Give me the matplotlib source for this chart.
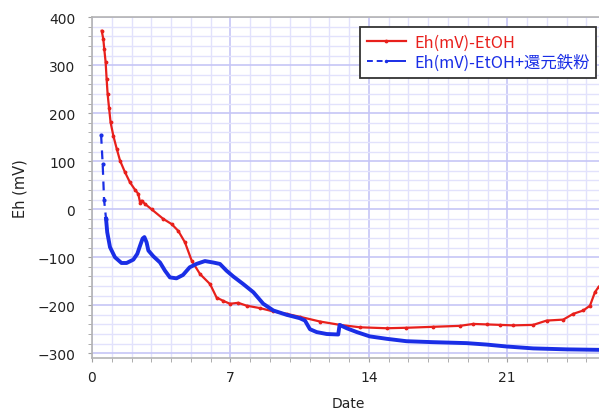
import numpy as np
import matplotlib.pyplot as plt
from matplotlib.ticker import MultipleLocator

plt.rcParams['font.family'] = ['Noto Sans CJK JP', 'DejaVu Sans']

# Eh(mV)-EtOH
red_day = [0.49, 0.57, 0.62, 0.69, 0.74, 0.79, 0.86, 0.94, 1.08, 1.25, 1.42, 1.67,
           1.92, 2.17, 2.34, 2.43, 2.51, 2.68, 3.01, 3.6, 4.03, 4.36, 4.7, 5.04,
           5.46, 5.97, 6.3, 6.64, 6.98, 7.39, 7.82, 8.49, 9.17, 9.84, 10.5, 11.53,
           12.54, 13.55, 14.9, 15.9, 17.25, 18.6, 19.28, 19.95, 20.63, 21.3, 22.31,
           22.99, 23.83, 24.33, 24.84, 25.18, 25.43, 25.63, 25.9]
red_eh = [372, 355, 334, 306, 271, 240, 212, 181, 153, 126, 101, 77,
          56, 41, 32, 14, 18, 11, 0, -20, -31, -45, -69, -107,
          -135, -156, -184, -191, -197, -195, -201, -206, -213, -218, -224, -234,
          -241, -246, -248, -247, -245, -243, -239, -240, -241, -242, -241,
          -232, -230, -218, -211, -201, -173, -161, -155]

# Eh(mV)-EtOH+還元鉄粉
blue_day = [0.46, 0.54, 0.61, 0.71, 0.77, 0.91, 1.16, 1.49, 1.75, 2.09, 2.29, 2.43,
            2.56, 2.65, 2.76, 2.85, 3.1, 3.44, 3.69, 3.94, 4.27, 4.6, 4.94, 5.28,
            5.71, 6.13, 6.47, 6.8, 7.14, 7.65, 8.16, 8.66, 9.17, 9.84, 10.5, 10.77,
            11.02, 11.36, 11.87, 12.45, 12.52, 12.88, 13.39, 14.05, 14.9, 15.9,
            17.25, 18.94, 19.95, 20.96, 22.31, 24.0, 25.63, 25.9]
blue_eh = [155, 94, 20, -20, -48, -79, -100, -112, -112, -105, -93, -76,
           -61, -58, -69, -86, -98, -111, -128, -142, -144, -137, -121, -114,
           -108, -111, -114, -128, -140, -156, -173, -197, -211, -220, -227, -232,
           -250, -256, -260, -261, -241, -248, -256, -265, -270, -275,
           -277, -279, -282, -286, -290, -292, -293, -293]

red = '#e8201c'
blue = '#1a2ee6'

fig = plt.figure(figsize=(5.99, 4.14), dpi=100)
ax = fig.add_axes([92 / 599, 55 / 414, 513 / 599, 340.7 / 414])

ax.plot(red_day, red_eh, color=red, lw=1.6, marker='.', ms=3.5,
        label='Eh(mV)-EtOH', zorder=3)
ax.plot(blue_day[3:], blue_eh[3:], color=blue, lw=2.8, zorder=3)
ax.plot(blue_day[:4], blue_eh[:4], color=blue, lw=1.6, ls=(0, (4, 3)),
        marker='.', ms=4, zorder=3)
ax.plot([], [], color=blue, lw=1.4, ls=(0, (3, 2, 3, 2, 9, 0)), marker='.', ms=3,
        markevery=[1], label='Eh(mV)-EtOH+還元鉄粉')

ax.set_xlim(0, 25.94)
ax.set_ylim(-310, 400)
ax.xaxis.set_major_locator(MultipleLocator(7))
ax.xaxis.set_minor_locator(MultipleLocator(1))
ax.yaxis.set_major_locator(MultipleLocator(100))
ax.yaxis.set_minor_locator(MultipleLocator(20))

ax.grid(which='minor', color='#e2e2fc', lw=1.0)
ax.grid(which='major', color='#c6c6f6', lw=1.2)
ax.set_axisbelow(True)

for s in ['left', 'bottom', 'top']:
    ax.spines[s].set_color('#b4b4b4')
    ax.spines[s].set_linewidth(1.2)
ax.spines['right'].set_visible(False)

ax.tick_params(which='both', colors='#a0a0a0', labelcolor='#222222', labelsize=10,
               length=3)
ax.tick_params(axis='y', pad=9)
ax.tick_params(axis='x', pad=6)
for lab in ax.get_xticklabels() + ax.get_yticklabels():
    lab.set_fontfamily('DejaVu Sans')

ax.set_ylabel('Eh (mV)', fontsize=10.5, family='DejaVu Sans', color='#222222',
              labelpad=7)
ax.set_xlabel('Date', fontsize=10, family='DejaVu Sans', color='#222222',
              labelpad=8)

leg = ax.legend(loc='upper left', bbox_to_anchor=((360 - 92) / 513, 1 - (28 - 18.3) / 340.7),
                fontsize=11.8, frameon=True, fancybox=False, framealpha=1,
                edgecolor='#333333', handlelength=2.4, borderpad=0.4,
                labelspacing=0.2, handletextpad=0.5, borderaxespad=0)
leg.get_frame().set_linewidth(1.3)
for txt, c in zip(leg.get_texts(), [red, blue]):
    txt.set_color(c)

fig.savefig('out.png', dpi=100)
